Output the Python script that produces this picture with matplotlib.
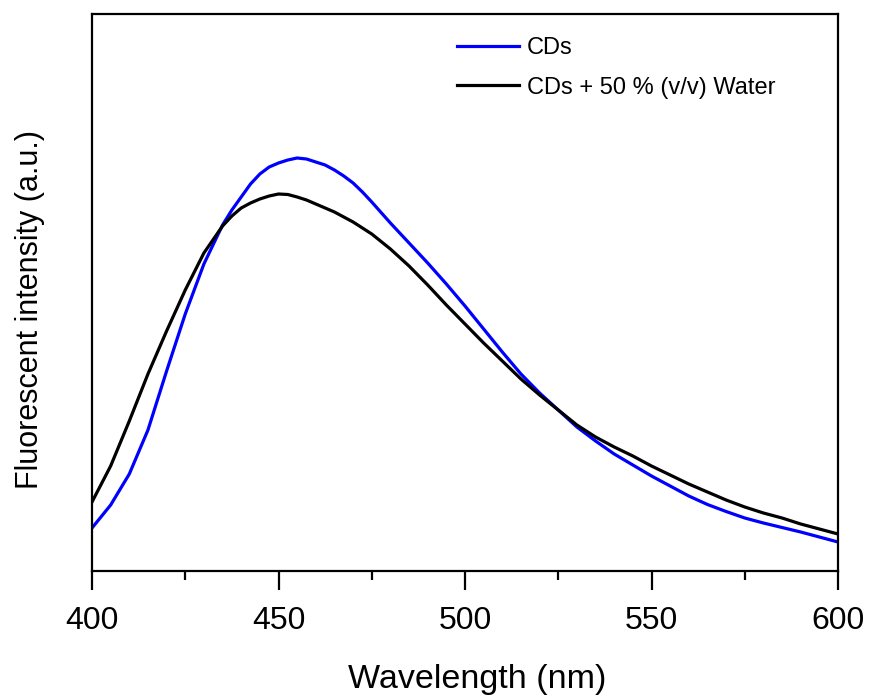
import matplotlib
matplotlib.use("Agg")
import matplotlib.pyplot as plt
from matplotlib.ticker import MultipleLocator

plt.rcParams['font.family'] = ['Liberation Sans', 'DejaVu Sans']

# wavelength (nm) and intensity (a.u.)
wavelength = [400, 405, 410, 415, 420, 425, 430, 435, 437.5, 440, 442.5, 445, 447.5,
              450, 452.5, 455, 457.5, 460, 462.5, 465, 467.5, 470, 472.5, 475, 480,
              485, 490, 495, 500, 505, 510, 515, 520, 525, 530, 535, 540, 545, 550,
              555, 560, 565, 570, 575, 580, 585, 590, 595, 600]
cds = [43, 66, 97, 141, 200, 257, 307, 346, 361, 374, 387, 397, 404,
       408, 411, 413, 412, 409, 406, 401, 395, 388, 379, 369, 348,
       328, 308, 287, 265, 242, 219, 197, 178, 161, 144, 130, 117, 106, 95,
       85, 75, 66.5, 59.5, 53, 48, 43.5, 39, 34, 29]
cds_water = [69, 105, 150, 197, 240, 281, 318, 345, 355, 363, 368, 372, 375,
             377, 376.5, 374, 371, 367, 363, 359, 354, 349, 343, 337, 322,
             305, 286, 266, 247, 228, 210, 192, 176, 161, 146, 134, 124, 115, 105,
             96, 87, 79, 71, 64, 58, 53, 47, 42, 37]

fig = plt.figure(figsize=(8.69, 6.95), dpi=100)
ax = fig.add_axes([92/869, 124/695, (838-92)/869, (571-14)/695])

ax.plot(wavelength, cds, color='#0000ff', lw=2.3, label='CDs')
ax.plot(wavelength, cds_water, color='black', lw=2.3, label='CDs + 50 % (v/v) Water')

ax.set_xlim(400, 600)
ax.set_ylim(0, 557)
ax.xaxis.set_major_locator(MultipleLocator(50))
ax.xaxis.set_minor_locator(MultipleLocator(25))
ax.set_yticks([])
for s in ax.spines.values():
    s.set_linewidth(1.6)
ax.tick_params(axis='x', which='major', direction='out', length=14, width=1.6,
               labelsize=23, pad=11)
ax.tick_params(axis='x', which='minor', direction='out', length=6.5, width=1.6)

ax.set_xlabel('Wavelength (nm)', fontsize=24.5)
ax.xaxis.set_label_coords(0.516, -0.167)
ax.set_ylabel('Fluorescent intensity (a.u.)', fontsize=22)
ax.yaxis.set_label_coords(-0.063, 0.469)

ax.legend(loc='upper left', bbox_to_anchor=(457/869, 1 - 37/695),
          bbox_transform=fig.transFigure, frameon=False, fontsize=17,
          handlelength=2.63, handletextpad=0.34, borderpad=0, borderaxespad=0,
          labelspacing=0.75)

fig.savefig('out.png', dpi=100)
